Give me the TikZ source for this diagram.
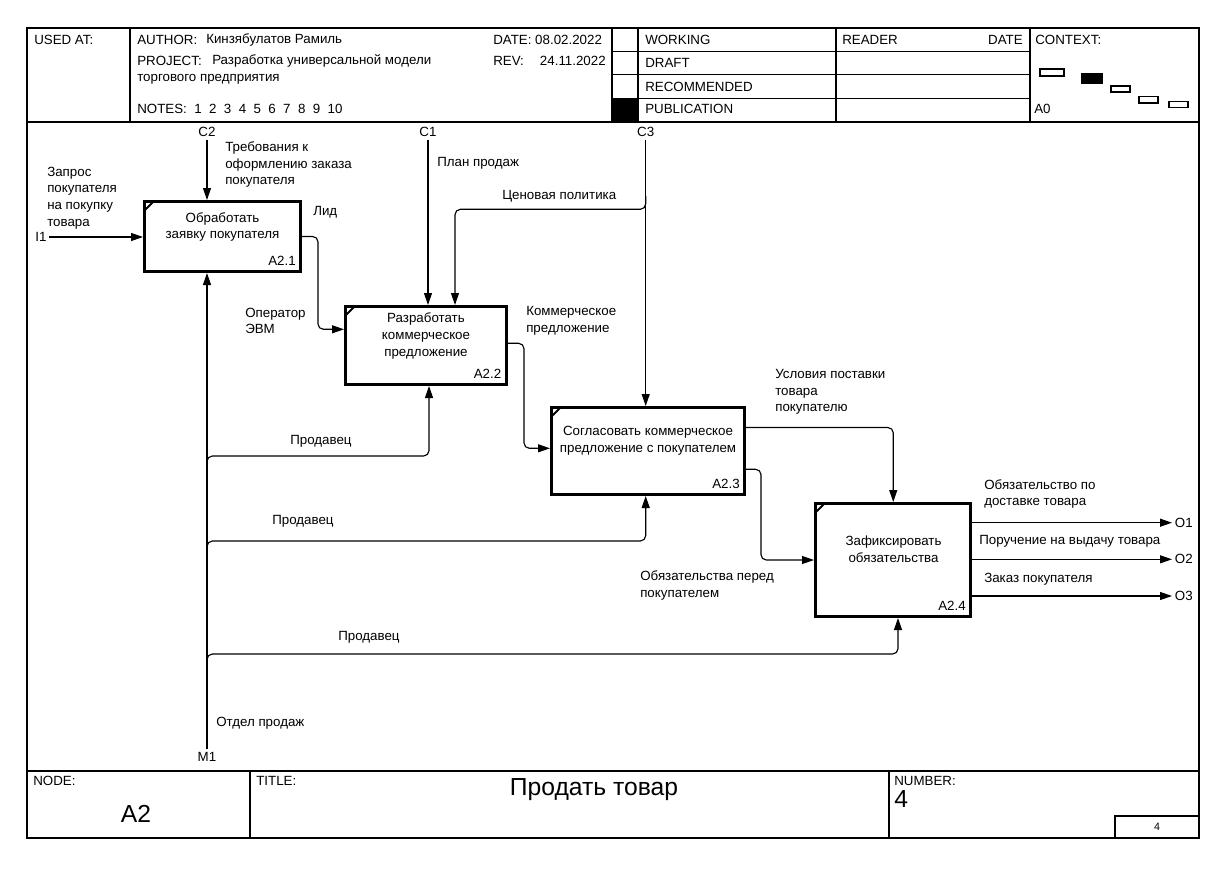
\documentclass[tikz,border=0pt]{standalone}
\usepackage{fontspec}
\setmainfont{Liberation Sans}
\usetikzlibrary{arrows.meta,calc}
\newcommand\lblfont{\fontsize{10pt}{12.5pt}\selectfont}
\newcommand\bigfont{\fontsize{18.5pt}{20pt}\selectfont}
\newcommand\tinyfont{\fontsize{8pt}{9pt}\selectfont}
\begin{document}
\begin{tikzpicture}[x=0.75pt,y=-0.75pt,
  lbl/.style={font=\lblfont, inner sep=0pt, anchor=west, align=left},
  ctr/.style={font=\lblfont, inner sep=0pt, align=center},
  io/.style={font=\lblfont, inner sep=2pt},
  arr/.style={-{Triangle[length=9pt,width=6pt]}, line width=0.85pt, rounded corners=4pt},
  proc/.style={draw, line width=2.25pt, inner sep=0pt},
  tick/.style={line width=1.4pt},
  frame/.style={line width=1.5pt},
  grid/.style={line width=0.9pt}]
\useasboundingbox (0,0) rectangle (1232,871);
% frame and header
\draw[frame] (27,28) rectangle (1199,838);
\draw[frame] (27,121.7) -- (1199,121.7);
\draw[grid] (130,28) -- (130,121.7);
\draw[grid] (612,28) -- (612,121.7);
\draw[grid] (638,28) -- (638,121.7);
\draw[grid] (836,28) -- (836,121.7);
\draw[grid] (1030,28) -- (1030,121.7);
\foreach \yy in {51.4,74.8,98.2} \draw[grid] (612,\yy) -- (1030,\yy);
\fill (612,98.2) rectangle (638,121.7);
\draw[grid] (1040,69) rectangle (1064,76);
\fill (1081,73) rectangle (1103,84);
\draw[grid] (1111,86) rectangle (1130,92);
\draw[grid] (1139,96.5) rectangle (1158,103);
\draw[grid] (1169,101.5) rectangle (1188,107.5);
\node[lbl] (usedat) at (34,40) {USED AT:};
\node[lbl] (author) at (137,40) {AUTHOR:};
\node[lbl] (authorv) at (206,40) {Кинзябулатов Рамиль};
\node[lbl] (date) at (493,40) {DATE: 08.02.2022};
\node[lbl] (project) at (137,61) {PROJECT:};
\node[lbl] (projectv) at (212,61) {Разработка универсальной модели};
\node[lbl] (rev) at (493,61) {REV:};
\node[lbl, anchor=east] (revv) at (606,61) {24.11.2022};
\node[lbl] (proj2) at (137,79) {торгового предприятия};
\node[lbl] (notes) at (137,108.5) {NOTES:\ \ 1\ \ 2\ \ 3\ \ 4\ \ 5\ \ 6\ \ 7\ \ 8\ \ 9\ \ 10};
\node[lbl] (working) at (645,40) {WORKING};
\node[lbl] (draft) at (645,63) {DRAFT};
\node[lbl] (recom) at (645,86.7) {RECOMMENDED};
\node[lbl] (publ) at (645,108.5) {PUBLICATION};
\node[lbl] (reader) at (842,40) {READER};
\node[lbl, anchor=east] (rdate) at (1023,40) {DATE};
\node[lbl] (context) at (1035,40) {CONTEXT:};
\node[lbl] (ctxa0) at (1034,108.5) {A0};
% footer
\draw[frame] (27,771) -- (1199,771);
\draw[grid] (250,771) -- (250,838);
\draw[grid] (889,771) -- (889,838);
\draw[grid] (1115,838) |- (1199,816);
\node[lbl] (nodel) at (33,781) {NODE:};
\node[font=\bigfont, inner sep=0pt] (nodev) at (136,814) {A2};
\node[lbl] (titlel) at (256,781) {TITLE:};
\node[font=\bigfont, inner sep=0pt] (title) at (594,790) {Продать товар};
\node[lbl] (numl) at (894,781) {NUMBER:};
\node[font=\bigfont, inner sep=0pt, anchor=west] (numv) at (894,799) {4};
\node[font=\tinyfont, inner sep=0pt] (pg) at (1157,827) {4};
% activity boxes
\node[proc, minimum width=117pt, minimum height=52.5pt] (A1) at (222.5,236.5) {};
\node[proc, minimum width=120.75pt, minimum height=58.5pt] (A2) at (426,345.5) {};
\node[proc, minimum width=144.75pt, minimum height=65.25pt] (A3) at (648,451) {};
\node[proc, minimum width=116.6pt, minimum height=84.75pt] (A4) at (893.25,560) {};
\foreach \b in {A1,A2,A3,A4}
  \draw[tick] ([shift={(2,10)}]\b.north west) -- ([shift={(11,1)}]\b.north west);
\node[ctr] (A1t) at (222.5,227) {Обработать\\заявку покупателя};
\node[lbl, anchor=east] (A1n) at (296,261) {A2.1};
\node[ctr] (A2t) at (426,336) {Разработать\\коммерческое\\предложение};
\node[lbl, anchor=east] (A2n) at (501.5,374) {A2.2};
\node[ctr] (A3t) at (648,441) {Согласовать коммерческое\\предложение с покупателем};
\node[lbl, anchor=east] (A3n) at (740,484) {A2.3};
\node[ctr] (A4t) at (893.5,549) {Зафиксировать\\обязательства};
\node[lbl, anchor=east] (A4n) at (966,605.7) {A2.4};
% boundary labels
\node[io] (I1) at (41,237) {I1};
\node[io] (C2) at (207,132) {C2};
\node[io] (C1) at (428,132) {C1};
\node[io] (C3) at (645.7,132) {C3};
\node[io] (M1) at (207,757) {M1};
\node[io, anchor=west] (O1) at (1172,522.7) {O1};
\node[io, anchor=west] (O2) at (1172,559.3) {O2};
\node[io, anchor=west] (O3) at (1172,596) {O3};
% coordinates
\coordinate (cpol0) at (645.7,196);
\coordinate (cpol) at (455,209.3);
\coordinate (lid) at (318,329.3);
\coordinate (kp0) at (0,343.3);
\coordinate (kp) at (524,448.3);
\coordinate (usl) at (893.25,427.5);
\coordinate (obz) at (761,469.3);
\coordinate (p1s) at (207,470);
\coordinate (p1) at (429,456);
\coordinate (p2s) at (207,555);
\coordinate (p2) at (645.7,541);
\coordinate (p3s) at (207,668);
\coordinate (p3) at (898,654);
% arrows
\draw[arr] (I1.east) -- (I1.east -| A1.west);
\draw[arr] (C2.south) -- (C2.south |- A1.north);
\draw[arr] (C1.south) -- (C1.south |- A2.north);
\draw[arr] (C3.south) -- (C3.south |- A3.north);
\draw[arr] (cpol0) |- (cpol) -- (cpol |- A2.north);
\draw[arr] (A1.east) -| (lid) -- (lid -| A2.west);
\draw[arr] (A2.east |- kp0) -| (kp) -- (kp -| A3.west);
\draw[arr] (A3.east |- usl) -| (A4.north);
\draw[arr] (A3.east |- obz) -| (obz |- A4.west) -- (A4.west);
\draw[arr] (A4.east |- O1.west) -- (O1.west);
\draw[arr] (A4.east |- O2.west) -- (O2.west);
\draw[arr] (A4.east |- O3.west) -- (O3.west);
\draw[arr] (M1.north) -- (M1.north |- A1.south);
\draw[arr] (p1s) |- (p1) -- (p1 |- A2.south);
\draw[arr] (p2s) |- (p2) -- (p2 |- A3.south);
\draw[arr] (p3s) |- (p3) -- (p3 |- A4.south);
% arrow labels
\node[lbl] (lzap) at (47,198) {Запрос\\покупателя\\на покупку\\товара};
\node[lbl] (ltreb) at (225,164.5) {Требования к\\оформлению заказа\\покупателя};
\node[lbl] (lplan) at (437,163) {План продаж};
\node[lbl] (lcen) at (502,196) {Ценовая политика};
\node[lbl] (llid) at (313,212) {Лид};
\node[lbl] (loper) at (245,321) {Оператор\\ЭВМ};
\node[lbl] (lkom) at (526,321) {Коммерческое\\предложение};
\node[lbl] (lprod1) at (290,441) {Продавец};
\node[lbl] (lprod2) at (272,521) {Продавец};
\node[lbl] (lprod3) at (338,637) {Продавец};
\node[lbl] (lotd) at (216,723) {Отдел продаж};
\node[lbl] (lusl) at (775,392) {Условия поставки\\товара\\покупателю};
\node[lbl] (lobz) at (640,585.5) {Обязательства перед\\покупателем};
\node[lbl] (lo1) at (984,494) {Обязательство по\\доставке товара};
\node[lbl] (lo2) at (979,541.7) {Поручение на выдачу товара};
\node[lbl] (lo3) at (984,579) {Заказ покупателя};
\end{tikzpicture}
\end{document}
